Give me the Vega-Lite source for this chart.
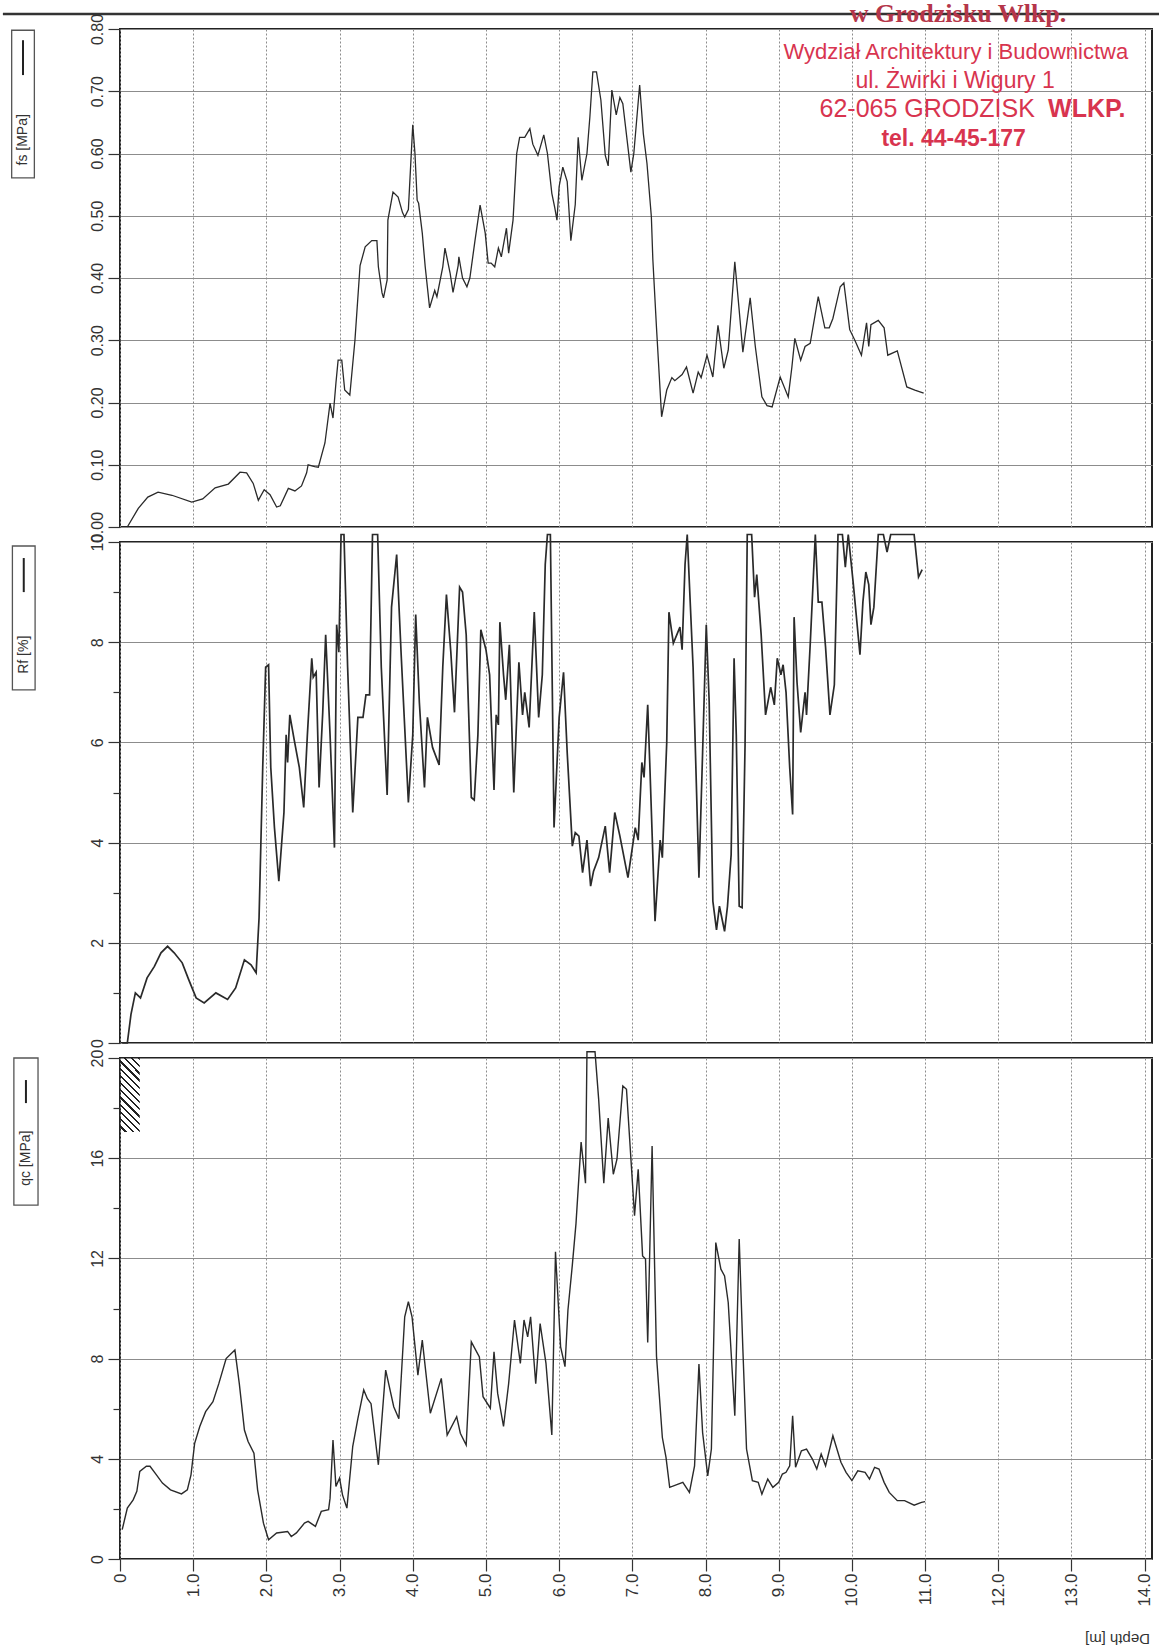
{
  "$schema": "https://vega.github.io/schema/vega-lite/v6.json",
  "autosize": {"type": "pad"},
  "padding": 0,
  "background": "white",
  "spacing": 15,
  "bounds": "flush",
  "config": {
    "view": {"stroke": "#222", "strokeWidth": 2},
    "font": "Liberation Sans",
    "axis": {"labelFont": "Liberation Sans", "labelColor": "#333", "labelFontSize": 16, "tickColor": "#333", "tickWidth": 1.2, "gridColor": "#8c8c8c", "gridWidth": 1, "domain": false, "labelFlush": false, "labelOverlap": false}
  },
  "datasets": {
    "fs": [
      {"d":0.10,"v":0.0},{"d":0.25,"v":0.03},{"d":0.38,"v":0.048},{"d":0.52,"v":0.056},{"d":0.71,"v":0.051},{"d":0.98,"v":0.040},{"d":1.13,"v":0.045},{"d":1.30,"v":0.063},{"d":1.48,"v":0.069},{"d":1.64,"v":0.088},{"d":1.73,"v":0.087},{"d":1.82,"v":0.070},{"d":1.89,"v":0.043},{"d":1.97,"v":0.060},{"d":2.05,"v":0.052},{"d":2.14,"v":0.032},{"d":2.19,"v":0.034},{"d":2.30,"v":0.062},{"d":2.39,"v":0.058},{"d":2.48,"v":0.066},{"d":2.55,"v":0.087},{"d":2.57,"v":0.100},{"d":2.66,"v":0.097},{"d":2.71,"v":0.096},{"d":2.80,"v":0.135},{"d":2.87,"v":0.199},{"d":2.91,"v":0.175},{"d":2.95,"v":0.231},{"d":2.98,"v":0.268},{"d":3.03,"v":0.268},{"d":3.07,"v":0.220},{"d":3.14,"v":0.212},{"d":3.21,"v":0.300},{"d":3.28,"v":0.420},{"d":3.35,"v":0.450},{"d":3.44,"v":0.460},{"d":3.51,"v":0.460},{"d":3.53,"v":0.418},{"d":3.58,"v":0.376},{"d":3.60,"v":0.368},{"d":3.65,"v":0.397},{"d":3.66,"v":0.493},{"d":3.73,"v":0.538},{"d":3.80,"v":0.530},{"d":3.86,"v":0.505},{"d":3.89,"v":0.498},{"d":3.94,"v":0.510},{"d":4.00,"v":0.646},{"d":4.03,"v":0.600},{"d":4.06,"v":0.525},{"d":4.08,"v":0.520},{"d":4.13,"v":0.472},{"d":4.17,"v":0.418},{"d":4.23,"v":0.352},{"d":4.30,"v":0.380},{"d":4.33,"v":0.370},{"d":4.41,"v":0.418},{"d":4.44,"v":0.448},{"d":4.51,"v":0.408},{"d":4.55,"v":0.377},{"d":4.62,"v":0.420},{"d":4.63,"v":0.434},{"d":4.68,"v":0.400},{"d":4.74,"v":0.386},{"d":4.78,"v":0.400},{"d":4.85,"v":0.460},{"d":4.92,"v":0.517},{"d":4.99,"v":0.472},{"d":5.03,"v":0.424},{"d":5.07,"v":0.424},{"d":5.12,"v":0.418},{"d":5.17,"v":0.448},{"d":5.21,"v":0.434},{"d":5.28,"v":0.480},{"d":5.31,"v":0.440},{"d":5.37,"v":0.493},{"d":5.42,"v":0.600},{"d":5.46,"v":0.626},{"d":5.53,"v":0.626},{"d":5.60,"v":0.640},{"d":5.64,"v":0.615},{"d":5.71,"v":0.597},{"d":5.79,"v":0.630},{"d":5.84,"v":0.600},{"d":5.90,"v":0.536},{"d":5.94,"v":0.513},{"d":5.97,"v":0.493},{"d":6.00,"v":0.547},{"d":6.05,"v":0.578},{"d":6.11,"v":0.555},{"d":6.16,"v":0.460},{"d":6.22,"v":0.518},{"d":6.26,"v":0.626},{"d":6.31,"v":0.557},{"d":6.38,"v":0.600},{"d":6.42,"v":0.659},{"d":6.46,"v":0.731},{"d":6.51,"v":0.731},{"d":6.57,"v":0.686},{"d":6.63,"v":0.597},{"d":6.67,"v":0.580},{"d":6.72,"v":0.702},{"d":6.78,"v":0.662},{"d":6.83,"v":0.690},{"d":6.87,"v":0.680},{"d":6.98,"v":0.570},{"d":7.02,"v":0.600},{"d":7.10,"v":0.710},{"d":7.15,"v":0.632},{"d":7.20,"v":0.584},{"d":7.26,"v":0.498},{"d":7.28,"v":0.430},{"d":7.33,"v":0.320},{"d":7.40,"v":0.177},{"d":7.47,"v":0.220},{"d":7.54,"v":0.240},{"d":7.58,"v":0.235},{"d":7.68,"v":0.245},{"d":7.74,"v":0.257},{"d":7.83,"v":0.215},{"d":7.90,"v":0.249},{"d":7.94,"v":0.240},{"d":8.02,"v":0.276},{"d":8.10,"v":0.241},{"d":8.17,"v":0.324},{"d":8.25,"v":0.255},{"d":8.31,"v":0.284},{"d":8.40,"v":0.426},{"d":8.46,"v":0.348},{"d":8.51,"v":0.281},{"d":8.61,"v":0.368},{"d":8.68,"v":0.290},{"d":8.77,"v":0.209},{"d":8.84,"v":0.195},{"d":8.91,"v":0.193},{"d":9.02,"v":0.241},{"d":9.13,"v":0.209},{"d":9.18,"v":0.257},{"d":9.22,"v":0.303},{"d":9.30,"v":0.268},{"d":9.36,"v":0.290},{"d":9.43,"v":0.295},{"d":9.54,"v":0.370},{"d":9.63,"v":0.320},{"d":9.69,"v":0.320},{"d":9.74,"v":0.335},{"d":9.84,"v":0.386},{"d":9.89,"v":0.392},{"d":9.97,"v":0.317},{"d":10.04,"v":0.300},{"d":10.13,"v":0.276},{"d":10.20,"v":0.328},{"d":10.23,"v":0.290},{"d":10.26,"v":0.325},{"d":10.36,"v":0.332},{"d":10.44,"v":0.320},{"d":10.49,"v":0.276},{"d":10.62,"v":0.283},{"d":10.75,"v":0.225},{"d":10.86,"v":0.220},{"d":10.98,"v":0.215}
    ],
    "rf": [
      {"d":0.03,"v":0},{"d":0.10,"v":0},{"d":0.15,"v":0.57},{"d":0.21,"v":1.0},{"d":0.28,"v":0.9},{"d":0.37,"v":1.3},{"d":0.47,"v":1.53},{"d":0.56,"v":1.8},{"d":0.65,"v":1.93},{"d":0.74,"v":1.8},{"d":0.85,"v":1.6},{"d":0.94,"v":1.26},{"d":1.04,"v":0.9},{"d":1.15,"v":0.8},{"d":1.31,"v":1.0},{"d":1.47,"v":0.87},{"d":1.58,"v":1.1},{"d":1.70,"v":1.66},{"d":1.79,"v":1.56},{"d":1.86,"v":1.4},{"d":1.90,"v":2.5},{"d":1.95,"v":5.5},{"d":1.99,"v":7.5},{"d":2.03,"v":7.55},{"d":2.06,"v":5.5},{"d":2.11,"v":4.3},{"d":2.17,"v":3.23},{"d":2.24,"v":4.6},{"d":2.27,"v":6.15},{"d":2.29,"v":5.6},{"d":2.32,"v":6.55},{"d":2.38,"v":6.05},{"d":2.45,"v":5.5},{"d":2.51,"v":4.7},{"d":2.56,"v":6.15},{"d":2.62,"v":7.68},{"d":2.64,"v":7.3},{"d":2.68,"v":7.4},{"d":2.72,"v":5.1},{"d":2.77,"v":6.6},{"d":2.81,"v":8.15},{"d":2.87,"v":6.15},{"d":2.93,"v":3.9},{"d":2.96,"v":8.35},{"d":2.99,"v":7.8},{"d":3.02,"v":10.15},{"d":3.06,"v":10.15},{"d":3.11,"v":7.5},{"d":3.18,"v":4.6},{"d":3.25,"v":6.5},{"d":3.32,"v":6.5},{"d":3.36,"v":6.95},{"d":3.41,"v":6.95},{"d":3.45,"v":10.15},{"d":3.52,"v":10.15},{"d":3.57,"v":7.5},{"d":3.65,"v":4.95},{"d":3.71,"v":8.7},{"d":3.78,"v":9.75},{"d":3.84,"v":7.8},{"d":3.94,"v":4.8},{"d":4.00,"v":6.15},{"d":4.04,"v":8.55},{"d":4.09,"v":6.8},{"d":4.16,"v":5.1},{"d":4.20,"v":6.5},{"d":4.27,"v":5.9},{"d":4.36,"v":5.55},{"d":4.41,"v":7.5},{"d":4.46,"v":8.95},{"d":4.52,"v":7.8},{"d":4.57,"v":6.6},{"d":4.64,"v":9.1},{"d":4.68,"v":9.0},{"d":4.73,"v":8.15},{"d":4.80,"v":4.9},{"d":4.84,"v":4.85},{"d":4.89,"v":6.15},{"d":4.93,"v":8.25},{"d":5.00,"v":7.85},{"d":5.05,"v":7.35},{"d":5.11,"v":5.05},{"d":5.14,"v":6.55},{"d":5.17,"v":6.35},{"d":5.19,"v":8.4},{"d":5.24,"v":7.35},{"d":5.27,"v":6.85},{"d":5.32,"v":7.95},{"d":5.38,"v":5.0},{"d":5.45,"v":7.6},{"d":5.50,"v":6.55},{"d":5.53,"v":7.0},{"d":5.59,"v":6.3},{"d":5.66,"v":8.6},{"d":5.72,"v":6.5},{"d":5.77,"v":7.35},{"d":5.81,"v":9.55},{"d":5.84,"v":10.15},{"d":5.88,"v":10.15},{"d":5.93,"v":4.3},{"d":6.00,"v":6.5},{"d":6.06,"v":7.4},{"d":6.11,"v":5.8},{"d":6.18,"v":3.93},{"d":6.22,"v":4.2},{"d":6.27,"v":4.13},{"d":6.32,"v":3.4},{"d":6.38,"v":4.05},{"d":6.43,"v":3.13},{"d":6.47,"v":3.43},{"d":6.54,"v":3.7},{"d":6.63,"v":4.33},{"d":6.69,"v":3.4},{"d":6.76,"v":4.6},{"d":6.83,"v":4.13},{"d":6.94,"v":3.3},{"d":7.04,"v":4.3},{"d":7.08,"v":4.05},{"d":7.13,"v":5.6},{"d":7.16,"v":5.3},{"d":7.21,"v":6.75},{"d":7.24,"v":5.5},{"d":7.31,"v":2.43},{"d":7.38,"v":4.05},{"d":7.41,"v":3.7},{"d":7.47,"v":6.0},{"d":7.50,"v":8.6},{"d":7.56,"v":7.98},{"d":7.65,"v":8.3},{"d":7.68,"v":7.85},{"d":7.72,"v":9.55},{"d":7.75,"v":10.15},{"d":7.83,"v":7.5},{"d":7.91,"v":3.3},{"d":7.96,"v":5.8},{"d":8.01,"v":8.35},{"d":8.05,"v":6.8},{"d":8.10,"v":2.83},{"d":8.15,"v":2.26},{"d":8.19,"v":2.73},{"d":8.26,"v":2.23},{"d":8.30,"v":2.73},{"d":8.35,"v":3.76},{"d":8.39,"v":7.68},{"d":8.42,"v":6.15},{"d":8.46,"v":2.73},{"d":8.50,"v":2.7},{"d":8.54,"v":5.95},{"d":8.57,"v":10.15},{"d":8.63,"v":10.15},{"d":8.67,"v":8.9},{"d":8.70,"v":9.35},{"d":8.76,"v":8.15},{"d":8.82,"v":6.55},{"d":8.89,"v":7.1},{"d":8.94,"v":6.75},{"d":8.98,"v":7.68},{"d":9.03,"v":7.35},{"d":9.06,"v":7.55},{"d":9.10,"v":7.0},{"d":9.15,"v":5.5},{"d":9.19,"v":4.56},{"d":9.21,"v":8.5},{"d":9.25,"v":7.2},{"d":9.30,"v":6.2},{"d":9.36,"v":7.0},{"d":9.38,"v":6.55},{"d":9.43,"v":7.95},{"d":9.50,"v":10.15},{"d":9.54,"v":8.8},{"d":9.59,"v":8.8},{"d":9.64,"v":7.9},{"d":9.70,"v":6.55},{"d":9.76,"v":7.15},{"d":9.81,"v":10.15},{"d":9.87,"v":10.15},{"d":9.91,"v":9.5},{"d":9.95,"v":10.15},{"d":10.02,"v":9.15},{"d":10.11,"v":7.75},{"d":10.15,"v":8.8},{"d":10.19,"v":9.4},{"d":10.23,"v":9.15},{"d":10.26,"v":8.35},{"d":10.30,"v":8.7},{"d":10.36,"v":10.15},{"d":10.43,"v":10.15},{"d":10.48,"v":9.8},{"d":10.53,"v":10.15},{"d":10.85,"v":10.15},{"d":10.91,"v":9.3},{"d":10.96,"v":9.45}
    ],
    "qc": [
      {"d":0.03,"v":1.17},{"d":0.10,"v":2.03},{"d":0.18,"v":2.36},{"d":0.23,"v":2.7},{"d":0.27,"v":3.5},{"d":0.36,"v":3.7},{"d":0.41,"v":3.7},{"d":0.48,"v":3.43},{"d":0.58,"v":3.03},{"d":0.69,"v":2.76},{"d":0.84,"v":2.6},{"d":0.92,"v":2.76},{"d":0.97,"v":3.36},{"d":1.02,"v":4.62},{"d":1.09,"v":5.29},{"d":1.17,"v":5.88},{"d":1.27,"v":6.28},{"d":1.35,"v":7.0},{"d":1.45,"v":8.0},{"d":1.57,"v":8.34},{"d":1.63,"v":7.0},{"d":1.70,"v":5.15},{"d":1.75,"v":4.69},{"d":1.83,"v":4.22},{"d":1.88,"v":2.76},{"d":1.96,"v":1.43},{"d":2.03,"v":0.77},{"d":2.14,"v":1.04},{"d":2.29,"v":1.1},{"d":2.34,"v":0.9},{"d":2.41,"v":1.04},{"d":2.52,"v":1.43},{"d":2.57,"v":1.5},{"d":2.67,"v":1.3},{"d":2.75,"v":1.9},{"d":2.85,"v":1.97},{"d":2.87,"v":2.43},{"d":2.91,"v":4.75},{"d":2.95,"v":2.9},{"d":3.00,"v":3.23},{"d":3.04,"v":2.56},{"d":3.10,"v":2.03},{"d":3.18,"v":4.5},{"d":3.25,"v":5.6},{"d":3.33,"v":6.75},{"d":3.38,"v":6.4},{"d":3.43,"v":6.2},{"d":3.53,"v":3.76},{"d":3.63,"v":7.54},{"d":3.74,"v":6.08},{"d":3.81,"v":5.6},{"d":3.89,"v":9.67},{"d":3.94,"v":10.27},{"d":3.99,"v":9.67},{"d":4.07,"v":7.34},{"d":4.13,"v":8.74},{"d":4.24,"v":5.82},{"d":4.39,"v":7.21},{"d":4.47,"v":4.95},{"d":4.60,"v":5.68},{"d":4.65,"v":5.02},{"d":4.73,"v":4.55},{"d":4.80,"v":8.67},{"d":4.91,"v":8.07},{"d":4.96,"v":6.48},{"d":5.06,"v":6.02},{"d":5.11,"v":8.27},{"d":5.16,"v":6.61},{"d":5.24,"v":5.29},{"d":5.31,"v":7.0},{"d":5.39,"v":9.54},{"d":5.47,"v":7.81},{"d":5.52,"v":9.54},{"d":5.57,"v":8.87},{"d":5.61,"v":9.67},{"d":5.68,"v":7.0},{"d":5.74,"v":9.4},{"d":5.82,"v":7.81},{"d":5.90,"v":4.95},{"d":5.95,"v":12.26},{"d":6.02,"v":8.47},{"d":6.08,"v":7.68},{"d":6.12,"v":9.93},{"d":6.18,"v":11.73},{"d":6.23,"v":13.39},{"d":6.30,"v":16.64},{"d":6.36,"v":15.0},{"d":6.38,"v":20.25},{"d":6.49,"v":20.25},{"d":6.54,"v":18.35},{"d":6.61,"v":15.0},{"d":6.67,"v":17.6},{"d":6.74,"v":15.36},{"d":6.79,"v":15.96},{"d":6.87,"v":18.88},{"d":6.92,"v":18.75},{"d":7.03,"v":13.7},{"d":7.08,"v":15.56},{"d":7.14,"v":12.1},{"d":7.18,"v":11.97},{"d":7.21,"v":8.64},{"d":7.27,"v":16.49},{"d":7.33,"v":8.1},{"d":7.41,"v":4.85},{"d":7.46,"v":4.06},{"d":7.51,"v":2.86},{"d":7.69,"v":3.06},{"d":7.78,"v":2.66},{"d":7.85,"v":3.72},{"d":7.91,"v":7.78},{"d":7.96,"v":5.05},{"d":8.03,"v":3.32},{"d":8.08,"v":4.39},{"d":8.14,"v":12.63},{"d":8.21,"v":11.57},{"d":8.26,"v":11.3},{"d":8.31,"v":10.24},{"d":8.40,"v":5.72},{"d":8.46,"v":12.77},{"d":8.51,"v":8.38},{"d":8.56,"v":4.39},{"d":8.64,"v":3.13},{"d":8.72,"v":3.06},{"d":8.77,"v":2.59},{"d":8.85,"v":3.19},{"d":8.92,"v":2.86},{"d":9.00,"v":3.06},{"d":9.05,"v":3.39},{"d":9.10,"v":3.46},{"d":9.15,"v":3.72},{"d":9.19,"v":5.72},{"d":9.23,"v":3.66},{"d":9.31,"v":4.32},{"d":9.38,"v":4.39},{"d":9.46,"v":3.99},{"d":9.52,"v":3.59},{"d":9.58,"v":4.19},{"d":9.64,"v":3.72},{"d":9.74,"v":4.92},{"d":9.85,"v":3.86},{"d":9.92,"v":3.46},{"d":10.00,"v":3.13},{"d":10.08,"v":3.52},{"d":10.18,"v":3.46},{"d":10.24,"v":3.19},{"d":10.31,"v":3.66},{"d":10.37,"v":3.59},{"d":10.44,"v":3.06},{"d":10.51,"v":2.66},{"d":10.62,"v":2.33},{"d":10.72,"v":2.33},{"d":10.85,"v":2.15},{"d":10.95,"v":2.26},{"d":11.00,"v":2.29}
    ]
  },
  "vconcat": [
    {
      "width": 1032, "height": 498,
      "layer": [
        {
          "data": {"name": "fs"},
          "mark": {"type": "line", "color": "#2a2a2a", "strokeWidth": 1.3, "clip": false},
          "encoding": {
            "x": {"field": "d", "type": "quantitative", "scale": {"domain": [0, 14.1], "nice": false, "zero": false},
              "axis": {"values": [0,1,2,3,4,5,6,7,8,9,10,11,12,13,14], "labels": false, "ticks": false, "grid": true, "gridDash": [2,2], "title": null}},
            "y": {"field": "v", "type": "quantitative", "scale": {"domain": [0, 0.8], "nice": false},
              "axis": {"values": [0,0.05,0.1,0.15,0.2,0.25,0.3,0.35,0.4,0.45,0.5,0.55,0.6,0.65,0.7,0.75,0.8],
                "labelExpr": "round(datum.value*100) % 10 != 0 ? '' : format(datum.value, '.2f')",
                "labelAngle": -90, "labelAlign": "center", "labelBaseline": "bottom", "labelPadding": 3,
                "tickSize": {"condition": {"test": "round(datum.value*100) % 10 != 0", "value": 7}, "value": 12},
                "gridOpacity": {"condition": {"test": "round(datum.value*100) % 10 != 0", "value": 0}, "value": 1},
                "title": null}}
          }
        },
        {
          "data": {"values": [{}]},
          "mark": {"type": "rule", "color": "#333", "strokeWidth": 2.5},
          "encoding": {
            "x": {"datum": -1.6, "type": "quantitative", "scale": {"domain": [0, 14.1], "nice": false, "zero": false}},
            "x2": {"datum": 14.23},
            "y": {"datum": 0.824, "type": "quantitative", "scale": {"domain": [0, 0.8], "nice": false}}
          }
        },
        {
          "data": {"values": [{}]},
          "mark": {"type": "rect", "fillOpacity": 0, "stroke": "#555", "strokeWidth": 1.3},
          "encoding": {
            "x": {"datum": -1.48, "type": "quantitative", "scale": {"domain": [0, 14.1], "nice": false, "zero": false}},
            "x2": {"datum": -1.17},
            "y": {"datum": 0.798, "type": "quantitative", "scale": {"domain": [0, 0.8], "nice": false}},
            "y2": {"datum": 0.561}
          }
        },
        {
          "data": {"values": [{}]},
          "mark": {"type": "text", "text": "fs [MPa]", "angle": 270, "fontSize": 14, "color": "#333", "align": "center", "baseline": "middle"},
          "encoding": {
            "x": {"datum": -1.325, "type": "quantitative", "scale": {"domain": [0, 14.1], "nice": false, "zero": false}},
            "y": {"datum": 0.622, "type": "quantitative", "scale": {"domain": [0, 0.8], "nice": false}}
          }
        },
        {
          "data": {"values": [{}]},
          "mark": {"type": "rule", "color": "#222", "strokeWidth": 2},
          "encoding": {
            "x": {"datum": -1.325, "type": "quantitative", "scale": {"domain": [0, 14.1], "nice": false, "zero": false}},
            "y": {"datum": 0.782, "type": "quantitative", "scale": {"domain": [0, 0.8], "nice": false}},
            "y2": {"datum": 0.726}
          }
        },
        {
          "data": {"values": [{}]},
          "mark": {"type": "text", "text": "w Grodzisku Wlkp.", "font": "Liberation Serif", "fontWeight": "bold", "fontSize": 26, "color": "#b5364a", "align": "center", "baseline": "alphabetic"},
          "encoding": {
            "x": {"datum": 11.45, "type": "quantitative", "scale": {"domain": [0, 14.1], "nice": false, "zero": false}},
            "y": {"datum": 0.811, "type": "quantitative", "scale": {"domain": [0, 0.8], "nice": false}}
          }
        },
        {
          "data": {"values": [{}]},
          "mark": {"type": "text", "text": "Wydział Architektury i Budownictwa", "fontSize": 22, "color": "#d8344f", "align": "center", "baseline": "middle"},
          "encoding": {
            "x": {"datum": 11.42, "type": "quantitative", "scale": {"domain": [0, 14.1], "nice": false, "zero": false}},
            "y": {"datum": 0.763, "type": "quantitative", "scale": {"domain": [0, 0.8], "nice": false}}
          }
        },
        {
          "data": {"values": [{}]},
          "mark": {"type": "text", "text": "ul. Żwirki i Wigury 1", "fontSize": 23, "color": "#d8344f", "align": "center", "baseline": "middle"},
          "encoding": {
            "x": {"datum": 11.41, "type": "quantitative", "scale": {"domain": [0, 14.1], "nice": false, "zero": false}},
            "y": {"datum": 0.716, "type": "quantitative", "scale": {"domain": [0, 0.8], "nice": false}}
          }
        },
        {
          "data": {"values": [{}]},
          "mark": {"type": "text", "text": "62-065 GRODZISK", "fontSize": 25, "color": "#d8344f", "align": "right", "baseline": "middle"},
          "encoding": {
            "x": {"datum": 12.5, "type": "quantitative", "scale": {"domain": [0, 14.1], "nice": false, "zero": false}},
            "y": {"datum": 0.671, "type": "quantitative", "scale": {"domain": [0, 0.8], "nice": false}}
          }
        },
        {
          "data": {"values": [{}]},
          "mark": {"type": "text", "text": "WLKP.", "fontSize": 25, "fontWeight": "bold", "color": "#d8344f", "align": "left", "baseline": "middle"},
          "encoding": {
            "x": {"datum": 12.68, "type": "quantitative", "scale": {"domain": [0, 14.1], "nice": false, "zero": false}},
            "y": {"datum": 0.671, "type": "quantitative", "scale": {"domain": [0, 0.8], "nice": false}}
          }
        },
        {
          "data": {"values": [{}]},
          "mark": {"type": "text", "text": "tel. 44-45-177", "fontSize": 23, "fontWeight": "bold", "color": "#d8344f", "align": "center", "baseline": "middle"},
          "encoding": {
            "x": {"datum": 11.39, "type": "quantitative", "scale": {"domain": [0, 14.1], "nice": false, "zero": false}},
            "y": {"datum": 0.624, "type": "quantitative", "scale": {"domain": [0, 0.8], "nice": false}}
          }
        }
      ]
    },
    {
      "width": 1032, "height": 501,
      "layer": [
        {
          "data": {"name": "rf"},
          "mark": {"type": "line", "color": "#2a2a2a", "strokeWidth": 1.7, "clip": false},
          "encoding": {
            "x": {"field": "d", "type": "quantitative", "scale": {"domain": [0, 14.1], "nice": false, "zero": false},
              "axis": {"values": [0,1,2,3,4,5,6,7,8,9,10,11,12,13,14], "labels": false, "ticks": false, "grid": true, "gridDash": [2,2], "title": null}},
            "y": {"field": "v", "type": "quantitative", "scale": {"domain": [0, 10], "nice": false},
              "axis": {"values": [0,1,2,3,4,5,6,7,8,9,10],
                "labelExpr": "datum.value % 2 != 0 ? '' : format(datum.value, 'd')",
                "labelAngle": -90, "labelAlign": "center", "labelBaseline": "bottom", "labelPadding": 3,
                "tickSize": {"condition": {"test": "datum.value % 2 != 0", "value": 7}, "value": 12},
                "gridOpacity": {"condition": {"test": "datum.value % 2 != 0", "value": 0}, "value": 1},
                "title": null}}
          }
        },
        {
          "data": {"values": [{}]},
          "mark": {"type": "rect", "fillOpacity": 0, "stroke": "#555", "strokeWidth": 1.3},
          "encoding": {
            "x": {"datum": -1.47, "type": "quantitative", "scale": {"domain": [0, 14.1], "nice": false, "zero": false}},
            "x2": {"datum": -1.16},
            "y": {"datum": 9.92, "type": "quantitative", "scale": {"domain": [0, 10], "nice": false}},
            "y2": {"datum": 7.05}
          }
        },
        {
          "data": {"values": [{}]},
          "mark": {"type": "text", "text": "Rf [%]", "angle": 270, "fontSize": 14, "color": "#333", "align": "center", "baseline": "middle"},
          "encoding": {
            "x": {"datum": -1.315, "type": "quantitative", "scale": {"domain": [0, 14.1], "nice": false, "zero": false}},
            "y": {"datum": 7.75, "type": "quantitative", "scale": {"domain": [0, 10], "nice": false}}
          }
        },
        {
          "data": {"values": [{}]},
          "mark": {"type": "rule", "color": "#222", "strokeWidth": 2},
          "encoding": {
            "x": {"datum": -1.315, "type": "quantitative", "scale": {"domain": [0, 14.1], "nice": false, "zero": false}},
            "y": {"datum": 9.68, "type": "quantitative", "scale": {"domain": [0, 10], "nice": false}},
            "y2": {"datum": 9.0}
          }
        }
      ]
    },
    {
      "width": 1032, "height": 501,
      "layer": [
        {
          "data": {"name": "qc"},
          "mark": {"type": "line", "color": "#2a2a2a", "strokeWidth": 1.4, "clip": false},
          "encoding": {
            "x": {"field": "d", "type": "quantitative", "scale": {"domain": [0, 14.1], "nice": false, "zero": false},
              "axis": {"values": [0,0.25,0.5,0.75,1,1.25,1.5,1.75,2,2.25,2.5,2.75,3,3.25,3.5,3.75,4,4.25,4.5,4.75,5,5.25,5.5,5.75,6,6.25,6.5,6.75,7,7.25,7.5,7.75,8,8.25,8.5,8.75,9,9.25,9.5,9.75,10,10.25,10.5,10.75,11,11.25,11.5,11.75,12,12.25,12.5,12.75,13,13.25,13.5,13.75,14],
                "labelExpr": "datum.value % 1 != 0 ? '' : (datum.value == 0 ? '0' : format(datum.value, '.1f'))",
                "labelAngle": -90, "labelAlign": "right", "labelBaseline": "middle", "labelPadding": 2, "labelFontSize": 17,
                "tickSize": {"condition": {"test": "datum.value % 1 != 0", "value": 7}, "value": 12},
                "gridOpacity": {"condition": {"test": "datum.value % 1 != 0", "value": 0}, "value": 1},
                "gridDash": [2,2], "grid": true,
                "title": "Depth [m]", "titleAngle": 180, "titleX": 997, "titleY": 79, "titleAlign": "center", "titleBaseline": "middle",
                "titleFontSize": 15, "titleFontWeight": "normal", "titleColor": "#333", "titleFont": "Liberation Sans"}},
            "y": {"field": "v", "type": "quantitative", "scale": {"domain": [0, 20], "nice": false},
              "axis": {"values": [0,2,4,6,8,10,12,14,16,18,20],
                "labelExpr": "datum.value % 4 != 0 ? '' : format(datum.value, 'd')",
                "labelAngle": -90, "labelAlign": "center", "labelBaseline": "bottom", "labelPadding": 3,
                "tickSize": {"condition": {"test": "datum.value % 4 != 0", "value": 7}, "value": 12},
                "gridOpacity": {"condition": {"test": "datum.value % 4 != 0", "value": 0}, "value": 1},
                "title": null}}
          }
        },
        {
          "data": {"values": [{}]},
          "mark": {"type": "rect", "strokeWidth": 0, "fill": {"gradient": "linear", "x1": 1, "y1": 0, "x2": 0.683, "y2": 1.183, "stops": [
            {"offset": 0, "color": "#222"}, {"offset": 0.025, "color": "#222"}, {"offset": 0.025, "color": "rgba(255,255,255,0)"}, {"offset": 0.077, "color": "rgba(255,255,255,0)"},
            {"offset": 0.077, "color": "#222"}, {"offset": 0.102, "color": "#222"}, {"offset": 0.102, "color": "rgba(255,255,255,0)"}, {"offset": 0.154, "color": "rgba(255,255,255,0)"},
            {"offset": 0.154, "color": "#222"}, {"offset": 0.179, "color": "#222"}, {"offset": 0.179, "color": "rgba(255,255,255,0)"}, {"offset": 0.231, "color": "rgba(255,255,255,0)"},
            {"offset": 0.231, "color": "#222"}, {"offset": 0.256, "color": "#222"}, {"offset": 0.256, "color": "rgba(255,255,255,0)"}, {"offset": 0.308, "color": "rgba(255,255,255,0)"},
            {"offset": 0.308, "color": "#222"}, {"offset": 0.333, "color": "#222"}, {"offset": 0.333, "color": "rgba(255,255,255,0)"}, {"offset": 0.385, "color": "rgba(255,255,255,0)"},
            {"offset": 0.385, "color": "#222"}, {"offset": 0.410, "color": "#222"}, {"offset": 0.410, "color": "rgba(255,255,255,0)"}, {"offset": 0.462, "color": "rgba(255,255,255,0)"},
            {"offset": 0.462, "color": "#222"}, {"offset": 0.487, "color": "#222"}, {"offset": 0.487, "color": "rgba(255,255,255,0)"}, {"offset": 0.538, "color": "rgba(255,255,255,0)"},
            {"offset": 0.538, "color": "#222"}, {"offset": 0.563, "color": "#222"}, {"offset": 0.563, "color": "rgba(255,255,255,0)"}, {"offset": 0.615, "color": "rgba(255,255,255,0)"},
            {"offset": 0.615, "color": "#222"}, {"offset": 0.640, "color": "#222"}, {"offset": 0.640, "color": "rgba(255,255,255,0)"}, {"offset": 0.692, "color": "rgba(255,255,255,0)"},
            {"offset": 0.692, "color": "#222"}, {"offset": 0.717, "color": "#222"}, {"offset": 0.717, "color": "rgba(255,255,255,0)"}, {"offset": 0.769, "color": "rgba(255,255,255,0)"},
            {"offset": 0.769, "color": "#222"}, {"offset": 0.794, "color": "#222"}, {"offset": 0.794, "color": "rgba(255,255,255,0)"}, {"offset": 0.846, "color": "rgba(255,255,255,0)"},
            {"offset": 0.846, "color": "#222"}, {"offset": 0.871, "color": "#222"}, {"offset": 0.871, "color": "rgba(255,255,255,0)"}, {"offset": 0.923, "color": "rgba(255,255,255,0)"},
            {"offset": 0.923, "color": "#222"}, {"offset": 0.948, "color": "#222"}, {"offset": 0.948, "color": "rgba(255,255,255,0)"}, {"offset": 1, "color": "rgba(255,255,255,0)"}
          ]}},
          "encoding": {
            "x": {"datum": 0, "type": "quantitative", "scale": {"domain": [0, 14.1], "nice": false, "zero": false}},
            "x2": {"datum": 0.27},
            "y": {"datum": 20, "type": "quantitative", "scale": {"domain": [0, 20], "nice": false}},
            "y2": {"datum": 17.05}
          }
        },
        {
          "data": {"values": [{}]},
          "mark": {"type": "rect", "fillOpacity": 0, "stroke": "#555", "strokeWidth": 1.3},
          "encoding": {
            "x": {"datum": -1.45, "type": "quantitative", "scale": {"domain": [0, 14.1], "nice": false, "zero": false}},
            "x2": {"datum": -1.12},
            "y": {"datum": 20.0, "type": "quantitative", "scale": {"domain": [0, 20], "nice": false}},
            "y2": {"datum": 14.13}
          }
        },
        {
          "data": {"values": [{}]},
          "mark": {"type": "text", "text": "qc [MPa]", "angle": 270, "fontSize": 14, "color": "#333", "align": "center", "baseline": "middle"},
          "encoding": {
            "x": {"datum": -1.285, "type": "quantitative", "scale": {"domain": [0, 14.1], "nice": false, "zero": false}},
            "y": {"datum": 16.0, "type": "quantitative", "scale": {"domain": [0, 20], "nice": false}}
          }
        },
        {
          "data": {"values": [{}]},
          "mark": {"type": "rule", "color": "#222", "strokeWidth": 2},
          "encoding": {
            "x": {"datum": -1.285, "type": "quantitative", "scale": {"domain": [0, 14.1], "nice": false, "zero": false}},
            "y": {"datum": 19.12, "type": "quantitative", "scale": {"domain": [0, 20], "nice": false}},
            "y2": {"datum": 18.2}
          }
        }
      ]
    }
  ]
}
